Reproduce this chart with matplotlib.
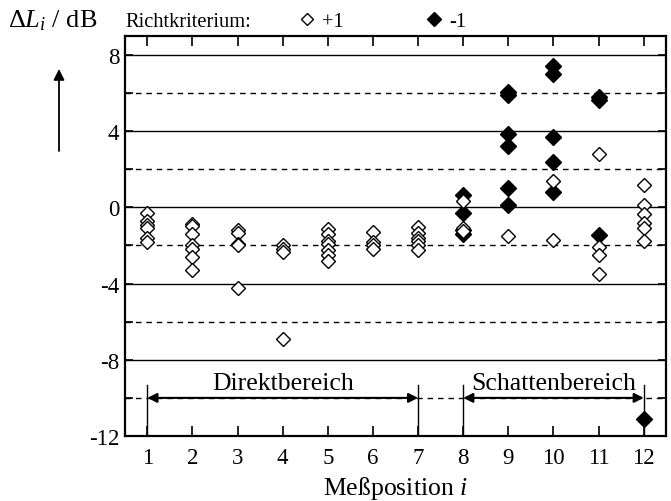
import matplotlib
matplotlib.use("Agg")
import matplotlib.pyplot as plt

plt.rcParams['font.family'] = ['Liberation Serif', 'DejaVu Serif']
plt.rcParams['mathtext.fontset'] = 'custom'
plt.rcParams['mathtext.rm'] = 'Liberation Serif'
plt.rcParams['mathtext.it'] = 'Liberation Serif:italic'
plt.rcParams['axes.unicode_minus'] = False

# Messwerte, Richtkriterium +1 (offen) und -1 (gefuellt)
pos_offen = [1, 1, 1, 1, 1, 1,
             2, 2, 2, 2, 2, 2, 2,
             3, 3, 3, 3, 3,
             4, 4, 4, 4,
             5, 5, 5, 5, 5, 5, 5,
             6, 6, 6, 6,
             7, 7, 7, 7, 7, 7,
             8, 8, 8,
             9,
             10, 10,
             11, 11, 11, 11,
             12, 12, 12, 12, 12, 12]
dL_offen = [-0.3, -0.7, -0.9, -1.1, -1.6, -1.8,
            -0.85, -1.0, -1.4, -2.0, -2.2, -2.6, -3.3,
            -1.2, -1.35, -1.9, -2.0, -4.25,
            -2.0, -2.2, -2.35, -6.9,
            -1.15, -1.4, -1.75, -1.9, -2.25, -2.5, -2.8,
            -1.3, -1.8, -2.0, -2.2,
            -1.05, -1.35, -1.6, -1.75, -2.0, -2.25,
            0.35, -1.1, -1.25,
            -1.5,
            1.4, -1.7,
            2.8, -2.1, -2.5, -3.5,
            1.15, 0.1, -0.35, -0.8, -1.1, -1.75]

pos_voll = [8, 8, 8, 8,
            9, 9, 9, 9, 9, 9,
            10, 10, 10, 10, 10,
            11, 11, 11,
            12]
dL_voll = [0.65, -0.3, -1.2, -1.4,
           6.05, 5.9, 3.85, 3.2, 1.0, 0.1,
           7.4, 7.0, 3.7, 2.4, 0.8,
           5.8, 5.65, -1.45,
           -11.1]

x_ticks = list(range(1, 13))
y_ticks = [-12, -8, -4, 0, 4, 8]
y_zwischen = [-10, -6, -2, 2, 6]
bereiche = [("Direktbereich", 1, 7), ("Schattenbereich", 8, 12)]

fig = plt.figure(figsize=(6.71, 5.02), dpi=100)
ax = fig.add_axes([0.186, 0.1295, 0.807, 0.797])
ax.set_xlim(0.5, 12.5)
ax.set_ylim(-12, 9)

# Rasterlinien
for y in y_ticks:
    ax.axhline(y, color='k', lw=1.0, zorder=1)
for y in y_zwischen:
    ax.axhline(y, color='k', lw=1.0, ls=(0, (4, 3.5)), zorder=1)

# Bereiche mit Doppelpfeilen
for name, a, b in bereiche:
    for xv in (a, b):
        ax.plot([xv, xv], [-12, -9.3], color='k', lw=1.0, zorder=2)
    ax.annotate('', xy=(b, -10), xytext=(a, -10),
                arrowprops=dict(arrowstyle='<|-|>', color='k', lw=1.5,
                                mutation_scale=14, shrinkA=0, shrinkB=0))
    ax.text((a + b) / 2, -9.55, name, ha='center', va='baseline', fontsize=18.5)

ax.plot(pos_voll, dL_voll, 'D', ms=8.2, mfc='k', mec='k', mew=1.0, zorder=3)
ax.plot(pos_offen, dL_offen, 'D', ms=7.2, mfc='white', mec='k', mew=1.0, zorder=4)

ax.set_xticks(x_ticks)
ax.set_yticks(y_ticks)
ax.set_yticks(y_zwischen, minor=True)
ax.tick_params(axis='both', which='both', direction='in', top=True, right=True,
               labelsize=16.5, width=1.2)
ax.tick_params(axis='x', length=7, pad=8)
ax.tick_params(axis='y', which='both', length=6, pad=4)
for s in ax.spines.values():
    s.set_linewidth(1.6)

ax.set_xlabel("Meßposition $i$", fontsize=18.5, labelpad=4)

# Kopfzeile mit Achsentitel und Legende
fig.text(8 / 671, 1 - 27 / 502, r"$\Delta L_i$ / dB", fontsize=19, va='baseline')
fig.text(125 / 671, 1 - 27 / 502, "Richtkriterium:", fontsize=14.8, va='baseline')
ax.plot([307 / 671], [1 - 20 / 502], 'D', ms=6, mfc='white', mec='k', mew=1.0,
        transform=fig.transFigure, clip_on=False)
fig.text(322 / 671, 1 - 27 / 502, "+1", fontsize=14.8, va='baseline')
ax.plot([434 / 671], [1 - 20 / 502], 'D', ms=7, mfc='k', mec='k',
        transform=fig.transFigure, clip_on=False)
fig.text(449 / 671, 1 - 27 / 502, "-1", fontsize=14.8, va='baseline')

ax.annotate('', xy=(59 / 671, 1 - 70 / 502), xytext=(59 / 671, 1 - 152 / 502),
            xycoords='figure fraction', textcoords='figure fraction',
            arrowprops=dict(arrowstyle='-|>', color='k', lw=1.3, mutation_scale=16,
                            shrinkA=0, shrinkB=0))

fig.savefig("out.png", dpi=100)
